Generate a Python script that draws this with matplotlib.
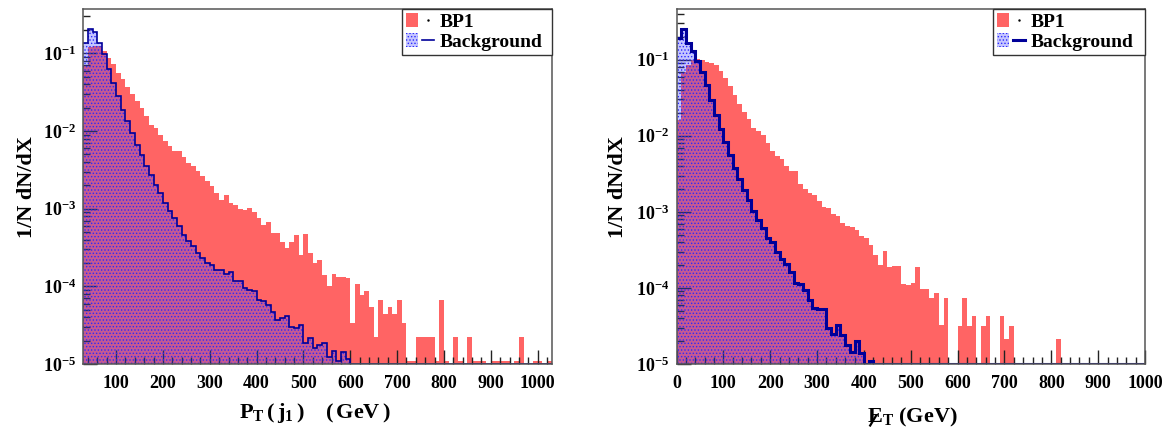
import numpy as np
import matplotlib
matplotlib.use('Agg')
import matplotlib.pyplot as plt
from matplotlib.patches import Patch
from matplotlib.lines import Line2D
from matplotlib.legend_handler import HandlerTuple
from matplotlib.ticker import FixedLocator, MultipleLocator, LogLocator, FuncFormatter, NullFormatter

plt.rcParams['font.family'] = ['Liberation Serif', 'DejaVu Serif']
plt.rcParams['font.weight'] = 'bold'
plt.rcParams['mathtext.fontset'] = 'custom'
plt.rcParams['mathtext.rm'] = 'Liberation Serif:bold'
plt.rcParams['mathtext.bf'] = 'Liberation Serif:bold'
plt.rcParams['mathtext.it'] = 'Liberation Serif:bold'
plt.rcParams['mathtext.default'] = 'bf'
plt.rcParams['hatch.linewidth'] = 0.6

# ---------------- data ----------------
series_labels = ['BP1', 'Background']

pt_range = (30, 1030)
pt_nbins = 100
pt_bp1 = [
    0.07, 0.12, 0.124, 0.124, 0.107, 0.088, 0.072, 0.0564, 0.0462, 0.0372,
    0.0296, 0.0243, 0.0199, 0.0155, 0.0121, 0.011, 0.0090, 0.0074, 0.0064, 0.0055,
    0.0055, 0.0047, 0.0039, 0.0036, 0.0031, 0.0026, 0.00225, 0.00194, 0.00159, 0.00130,
    0.00152, 0.00118, 0.00113, 0.0010, 0.00097, 0.00102, 0.00092, 0.00076, 0.00062, 0.00067,
    0.00049, 0.00049, 0.00037, 0.00031, 0.00037, 0.00046, 0.000255, 0.00047, 0.00027, 0.00020,
    0.00022, 0.00014, 0.000101, 0.000144, 0.000131, 0.000131, 0.000128, 3.35e-5, 0.000108, 7.8e-5,
    8.8e-5, 5.5e-5, 2.2e-5, 6.7e-5, 4.4e-5, 5.5e-5, 4.4e-5, 6.7e-5, 3.35e-5, 1.1e-5,
    1.1e-5, 2.2e-5, 2.2e-5, 2.2e-5, 2.2e-5, 1.1e-5, 6.7e-5, 1.1e-5, 0, 2.2e-5,
    1.1e-5, 0, 2.2e-5, 1.1e-5, 1.1e-5, 1.1e-5, 0, 1.1e-5, 1.1e-5, 1.1e-5,
    1.1e-5, 0, 1.1e-5, 2.2e-5, 0, 0, 1.1e-5, 1.1e-5, 0, 1.1e-5,
]
pt_bkg = [
    0.137, 0.204, 0.19, 0.137, 0.097, 0.0622, 0.0419, 0.0281, 0.0189, 0.0134,
    0.00947, 0.0067, 0.00498, 0.00352, 0.00275, 0.00204, 0.00159, 0.00118, 0.000924, 0.000758,
    0.000592, 0.000462, 0.000379, 0.000327, 0.000268, 0.000231, 0.000199, 0.000189, 0.000163, 0.000163,
    0.000144, 0.000152, 0.000118, 0.000118, 9.5e-5, 9.0e-5, 8.6e-5, 6.7e-5, 6.4e-5, 5.8e-5,
    4.7e-5, 3.7e-5, 3.9e-5, 4.1e-5, 3.0e-5, 2.9e-5, 3.2e-5, 1.88e-5, 2.14e-5, 1.6e-5,
    1.76e-5, 1.85e-5, 1.22e-5, 1.47e-5, 1.1e-5, 1.42e-5, 1.15e-5, 0, 0, 0,
    0, 0, 0, 0, 0, 0, 0, 0, 0, 0,
    0, 0, 0, 0, 0, 0, 0, 0, 0, 0,
    0, 0, 0, 0, 0, 0, 0, 0, 0, 0,
    0, 0, 0, 0, 0, 0, 0, 0, 0, 0,
]

met_range = (0, 1000)
met_nbins = 100
met_bp1 = [
    0.0163, 0.07, 0.085, 0.100, 0.102, 0.099, 0.094, 0.090, 0.084, 0.072,
    0.057, 0.0446, 0.0346, 0.0262, 0.0207, 0.0164, 0.0128, 0.0116, 0.0101, 0.0080,
    0.00635, 0.0055, 0.0050, 0.0040, 0.0034, 0.00345, 0.0023, 0.0020, 0.00176, 0.00167,
    0.00137, 0.00115, 0.00114, 0.00093, 0.00087, 0.00071, 0.00066, 0.00063, 0.00057, 0.00048,
    0.00046, 0.00037, 0.00027, 0.00020, 0.000307, 0.00019, 0.000195, 0.000195, 0.000113, 0.000108,
    0.000115, 0.000187, 9.6e-5, 9.6e-5, 7.3e-5, 8.5e-5, 3.26e-5, 7.3e-5, 0, 0,
    3.16e-5, 7.3e-5, 3.16e-5, 4.3e-5, 0, 3.16e-5, 4.3e-5, 0, 0, 4.3e-5,
    2.1e-5, 3.16e-5, 0, 0, 0, 0, 0, 0, 0, 0,
    0, 2.1e-5, 0, 0, 0, 0, 0, 0, 0, 0,
    0, 0, 0, 0, 0, 0, 0, 0, 0, 0,
]
met_bkg = [
    0.193, 0.256, 0.166, 0.131, 0.097, 0.068, 0.0469, 0.0298, 0.0189, 0.0124,
    0.00826, 0.00551, 0.00376, 0.00272, 0.00195, 0.00144, 0.00103, 0.000785, 0.000622, 0.00046,
    0.000407, 0.000301, 0.000241, 0.000205, 0.000164, 0.000115, 0.000112, 9.4e-5, 6.95e-5, 5.4e-5,
    5.3e-5, 5.3e-5, 2.95e-5, 2.5e-5, 3.3e-5, 2.4e-5, 1.78e-5, 1.42e-5, 2.0e-5, 1.38e-5,
    0, 1.1e-5, 0, 0, 0, 0, 0, 0, 0, 0,
    0, 0, 0, 0, 0, 0, 0, 0, 0, 0,
    0, 0, 0, 0, 0, 0, 0, 0, 0, 0,
    0, 0, 0, 0, 0, 0, 0, 0, 0, 0,
    0, 0, 0, 0, 0, 0, 0, 0, 0, 0,
    0, 0, 0, 0, 0, 0, 0, 0, 0, 0,
]

pt_xticks = [100, 200, 300, 400, 500, 600, 700, 800, 900, 1000]
met_xticks = [0, 100, 200, 300, 400, 500, 600, 700, 800, 900, 1000]
yticks = [1e-5, 1e-4, 1e-3, 1e-2, 1e-1]
ylabel = '1/N dN/dX'
pt_xlabel = r'$\mathbf{P_T\,(\,j_1\,)\quad\,(\,GeV\,)}$'
met_xlabel = r'$\mathbf{E_T}$ (GeV)'

# ---------------- style ----------------
RED = '#ff6464'
BLUEFILL = (0.25, 0.25, 1.0, 0.30)
HATCHC = '#2a2aff'
NAVY = '#000099'
FRAME = '#555555'
W, H = 1170, 438

fig = plt.figure(figsize=(W / 100, H / 100), dpi=100)
ax1 = fig.add_axes([83.3 / W, 1 - 364 / H, 468.4 / W, 354.7 / H])
ax2 = fig.add_axes([676.5 / W, 1 - 364 / H, 468.5 / W, 354.7 / H])


def draw(ax, rng, nbins, sig, bkg, ytop, lw, xticks, leg_x0, ylab_x):
    edges = np.linspace(rng[0], rng[1], nbins + 1)
    sig = np.asarray(sig, float)
    bkg = np.asarray(bkg, float)
    ymin = yticks[0]
    floor = 1e-9
    ax.stairs(np.where(sig > 0, sig, floor), edges, baseline=floor, fill=True,
              facecolor=RED, edgecolor='none', lw=0, zorder=1)
    ax.stairs(np.where(bkg > 0, bkg, floor), edges, baseline=floor, fill=True,
              facecolor=BLUEFILL, edgecolor=HATCHC, hatch='.....', lw=0, zorder=2)
    ax.stairs(np.maximum(bkg, ymin), edges, baseline=None, fill=False,
              color=NAVY, lw=lw, zorder=3)

    ax.set_yscale('log')
    ax.set_xlim(*rng)
    ax.set_ylim(ymin, ytop)
    ax.xaxis.set_major_locator(FixedLocator(xticks))
    ax.xaxis.set_minor_locator(MultipleLocator(20))
    ax.yaxis.set_major_locator(FixedLocator(yticks))
    ax.yaxis.set_minor_locator(LogLocator(base=10, subs=np.arange(2, 10)))
    ax.yaxis.set_minor_formatter(NullFormatter())
    ax.yaxis.set_major_formatter(FuncFormatter(
        lambda v, p: r'$\mathbf{10^{%d}}$' % int(round(np.log10(v)))))
    ax.tick_params(which='both', direction='in', top=False, right=False,
                   color='#222222', width=1)
    ax.tick_params(which='major', length=10)
    ax.tick_params(which='minor', length=5)
    ax.tick_params(axis='x', labelsize=13, pad=8)
    ax.tick_params(axis='y', labelsize=13, pad=5)
    for s in ax.spines.values():
        s.set_color(FRAME)
        s.set_linewidth(1.1)
        s.set_zorder(5)

    ax.set_ylabel(ylabel, fontsize=16, fontweight='bold')
    ax.yaxis.set_label_coords(ylab_x, 0.5)

    h_sig = (Patch(facecolor=RED, edgecolor='none'),
             Line2D([], [], marker='.', ms=1.5, color='black', ls='none'))
    h_bkg = (Patch(facecolor=BLUEFILL, edgecolor=HATCHC, hatch='.....', lw=0),
             Line2D([], [], color=NAVY, lw=lw))
    leg = ax.legend([h_sig, h_bkg], series_labels,
                    handler_map={tuple: HandlerTuple(ndivide=None)},
                    loc='upper left', bbox_to_anchor=(leg_x0, 1.0, 1.0 - leg_x0, 0.0),
                    mode='expand', borderaxespad=0, fancybox=False,
                    edgecolor='#333333', framealpha=1, fontsize=14,
                    handlelength=1.45, handleheight=0.75, handletextpad=0.3,
                    borderpad=0.2, labelspacing=0.1)
    leg.get_frame().set_linewidth(1.0)
    leg.set_zorder(10)


draw(ax1, pt_range, pt_nbins, pt_bp1, pt_bkg, 0.37, 1.2, pt_xticks, 0.680, -0.099)
draw(ax2, met_range, met_nbins, met_bp1, met_bkg, 0.46, 2.2, met_xticks, 0.6756, -0.1035)

fig.text(315 / W, 1 - 401 / H, pt_xlabel, ha='center', va='top', fontsize=16)
base_px = 422.0
t2 = fig.text(912 / W, 1 - base_px / H, met_xlabel, ha='center', va='baseline', fontsize=16)

# slash through the E of the missing-ET label, drawn as a line (not text)
fig.canvas.draw()
bb = t2.get_window_extent()
yb = H - base_px
sx = [bb.x0 + 3.5, bb.x0 + 9.5]
sy = [yb - 3.5, yb + 6.5]
fig.add_artist(Line2D([v / W for v in sx], [v / H for v in sy],
                      transform=fig.transFigure, color='black', lw=1.6))

fig.savefig('out.png', dpi=100)
